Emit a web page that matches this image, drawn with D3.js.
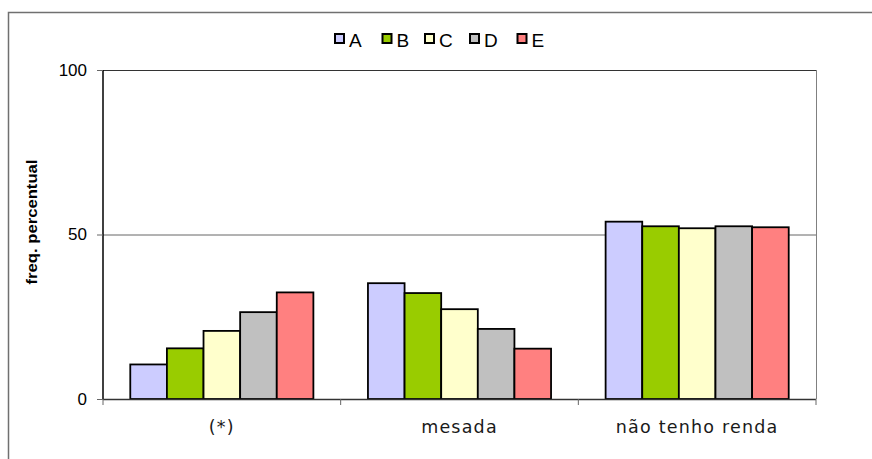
<!DOCTYPE html>
<html><head><meta charset="utf-8">
<script src="https://cdn.jsdelivr.net/npm/d3@7"></script>
<style>body{margin:0;background:#fff}svg{display:block}</style>
</head><body>
<svg id="c" width="872" height="459"></svg>
<script>
const categories = ["(*)", "mesada", "não tenho renda"];
const seriesNames = ["A", "B", "C", "D", "E"];
const seriesColors = ["#CCCCFF", "#99CC00", "#FFFFCC", "#C0C0C0", "#FF8080"];
const valuesA = [10.5, 35.2, 53.9];
const valuesB = [15.4, 32.2, 52.5];
const valuesC = [20.7, 27.3, 51.9];
const valuesD = [26.4, 21.3, 52.5];
const valuesE = [32.4, 15.3, 52.2];
const yTicks = [0, 50, 100];
const yTitle = "freq. percentual";

const series = [valuesA, valuesB, valuesC, valuesD, valuesE];
const svg = d3.select("#c");
const L = 103, R = 816, T = 70, B = 399;

// outer frame
svg.append("path").attr("d", "M8.5,459 V12.5 H872").attr("fill", "none").attr("stroke", "#707070").attr("stroke-width", 1.5);

const x0 = d3.scaleBand().domain(categories).range([L, R]).paddingInner(0).paddingOuter(0);
const x1 = d3.scaleBand().domain(seriesNames).range([0, x0.bandwidth()]).paddingOuter(0.745).paddingInner(0);
const y = d3.scaleLinear().domain([0, 100]).range([B, T]);

// gridlines
svg.append("g").selectAll("line").data(yTicks.filter(d => d > 0)).join("line")
  .attr("x1", L).attr("x2", R).attr("y1", d => y(d) + 0.5).attr("y2", d => y(d) + 0.5)
  .attr("stroke", d => d === 100 ? "#333" : "#666").attr("stroke-width", 1);
// right border
svg.append("line").attr("x1", R + 0.5).attr("x2", R + 0.5).attr("y1", T).attr("y2", B).attr("stroke", "#808080");

// bars
const g = svg.append("g");
categories.forEach((c, ci) => {
  seriesNames.forEach((s, si) => {
    const v = series[si][ci];
    g.append("rect")
      .attr("x", x0(c) + x1(s))
      .attr("y", y(v))
      .attr("width", x1.bandwidth())
      .attr("height", y(0) - y(v))
      .attr("fill", seriesColors[si])
      .attr("stroke", "#000").attr("stroke-width", 1.8);
  });
});

// y axis
const yAxis = d3.axisLeft(y).tickValues(yTicks).tickSize(6).tickPadding(10);
const ya = svg.append("g").attr("transform", `translate(${L},0)`).call(yAxis);
ya.select(".domain").attr("stroke", "#000").attr("stroke-width", 1.5).attr("d", `M0,${T}V${B}`);
ya.selectAll(".tick line").attr("stroke", "#666");
ya.selectAll(".tick text").attr("font-family", "Liberation Sans, Arial, sans-serif").attr("font-size", 17).attr("fill", "#000");

// x axis
const xa = svg.append("g").attr("transform", `translate(0,${B})`);
xa.append("line").attr("x1", L).attr("x2", R).attr("y1", 0.5).attr("y2", 0.5).attr("stroke", "#333").attr("stroke-width", 1.5);
const bounds = [L].concat(categories.map(c => x0(c) + x0.bandwidth()));
xa.selectAll("line.tk").data(bounds).join("line").attr("class", "tk")
  .attr("x1", d => d).attr("x2", d => d).attr("y1", 0).attr("y2", 6).attr("stroke", "#666");
xa.selectAll("text").data(categories).join("text")
  .attr("x", d => x0(d) + x0.bandwidth() / 2).attr("y", 34)
  .attr("text-anchor", "middle").attr("font-family", "'DejaVu Sans', sans-serif").attr("font-size", 17.5)
  .attr("letter-spacing", 1.2)
  .attr("fill", "#1a1a1a").text(d => d);

// y title
svg.append("text").attr("transform", "translate(37,222) rotate(-90)").attr("text-anchor", "middle")
  .attr("font-family", "Liberation Sans, Arial, sans-serif").attr("font-weight", "bold").attr("font-size", 14)
  .attr("textLength", 125).attr("lengthAdjust", "spacingAndGlyphs")
  .text(yTitle);

// legend
const legX = [334, 381.5, 424, 469, 516.5];
const lg = svg.append("g");
seriesNames.forEach((s, i) => {
  lg.append("rect").attr("x", legX[i] + 1).attr("y", 34).attr("width", 9).attr("height", 9)
    .attr("fill", seriesColors[i]).attr("stroke", "#000").attr("stroke-width", 2);
  lg.append("text").attr("x", legX[i] + 15).attr("y", 46.5).attr("font-family", "Liberation Sans, Arial, sans-serif")
    .attr("font-size", 19).text(s);
});
</script>
</body></html>
